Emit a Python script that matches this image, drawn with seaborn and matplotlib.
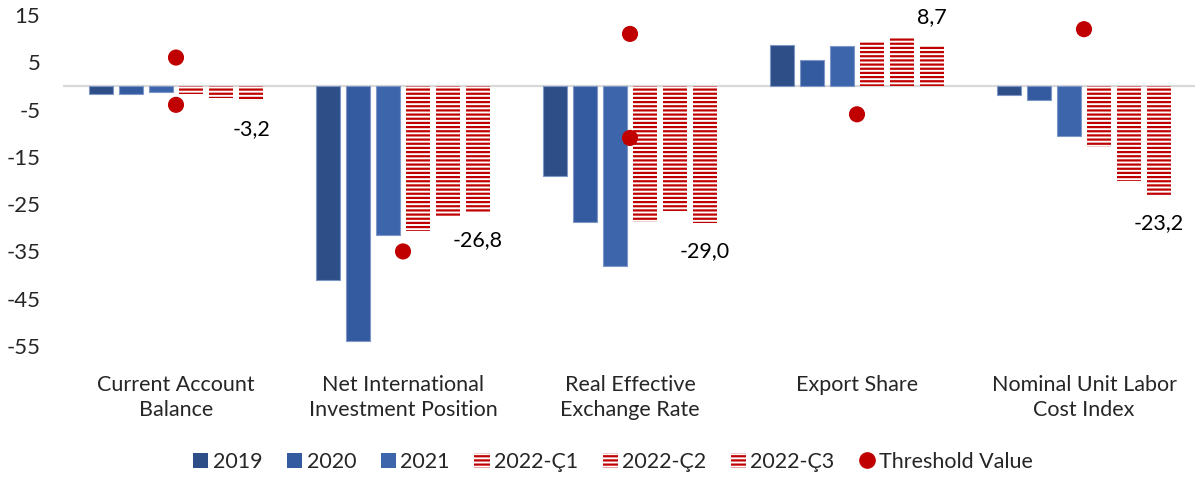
import matplotlib
matplotlib.use("Agg")
import matplotlib.pyplot as plt
from matplotlib.patches import Patch
from matplotlib.lines import Line2D
import seaborn as sns
import pandas as pd

# Indicators on the x axis
categories = [
    "Current Account\nBalance",
    "Net International\nInvestment Position",
    "Real Effective\nExchange Rate",
    "Export Share",
    "Nominal Unit Labor\nCost Index",
]
series = ["2019", "2020", "2021", "2022-Ç1", "2022-Ç2", "2022-Ç3"]

v2019 = [-1.8, -41.0, -19.0, 8.7, -2.0]
v2020 = [-1.8, -54.0, -28.7, 5.5, -3.0]
v2021 = [-1.3, -31.5, -38.0, 8.5, -10.5]
v2022_q1 = [-1.8, -30.6, -28.8, 9.3, -13.0]
v2022_q2 = [-2.5, -27.5, -26.5, 10.1, -20.0]
v2022_q3 = [-3.2, -26.8, -29.0, 8.7, -23.2]

# Threshold values (indicator index, value)
threshold_idx = [0, 0, 1, 2, 2, 3, 4]
threshold_val = [6, -4, -35, 11, -11, -6, 12]

yticks = [15, 5, -5, -15, -25, -35, -45, -55]

blue_colors = ["#2E4E87", "#345A9F", "#3C65AC"]
red = "#C00000"

sns.set_style("white")
plt.rcParams["font.family"] = ["Lato", "DejaVu Sans"]
plt.rcParams["hatch.linewidth"] = 1.6
FS = 15.5

values = [v2019, v2020, v2021, v2022_q1, v2022_q2, v2022_q3]
df = pd.DataFrame(
    [(c, s, v) for s, vals in zip(series, values) for c, v in zip(categories, vals)],
    columns=["indicator", "series", "value"],
)

fig = plt.figure(figsize=(11.95, 4.8), dpi=100)
W, H = 1195, 480
left, right = 62.5, 1197.5
top, bottom = 15, 346
ax = fig.add_axes([left / W, 1 - bottom / H, (right - left) / W, (bottom - top) / H])

palette = dict(zip(series, blue_colors + ["#FFFFFF"] * 3))
sns.barplot(
    data=df, x="indicator", y="value", hue="series", hue_order=series,
    order=categories, palette=palette, width=0.793, gap=0.2,
    saturation=1, legend=False, ax=ax, errorbar=None,
)

for i, cont in enumerate(ax.containers):
    for p in cont.patches:
        if i < 3:
            p.set_edgecolor("#7F97C6")
            p.set_linewidth(0.8)
        else:
            p.set_facecolor("white")
            p.set_edgecolor(red)
            p.set_hatch("----")
            p.set_linewidth(0)

# Value labels for the last quarter
for p, v in zip(ax.containers[5].patches, v2022_q3):
    xc = p.get_x() + p.get_width() / 2
    ax.annotate(
        f"{v:.1f}".replace(".", ","), (xc, v),
        xytext=(0, 20 if v > 0 else -20), textcoords="offset points",
        ha="center", va="center", fontsize=FS, color="black",
    )

sns.scatterplot(
    x=threshold_idx, y=threshold_val, color=red, s=135,
    edgecolor="none", ax=ax, legend=False, zorder=5,
)

ax.axhline(0, color="#D9D9D9", lw=1.6, zorder=0.5)
ax.set_xlim(-0.5, 4.5)
ax.set_ylim(-55, 15)
ax.set_yticks(yticks)
ax.set_yticklabels([str(t) for t in yticks], fontsize=16)
ax.tick_params(axis="y", length=0, pad=16)
ax.tick_params(axis="x", length=0, pad=21, labelsize=FS)
for lbl in ax.get_xticklabels():
    lbl.set_linespacing(1.32)
ax.set_xlabel("")
ax.set_ylabel("")
for s in ax.spines.values():
    s.set_visible(False)

handles = [Patch(facecolor=c, edgecolor="none") for c in blue_colors]
handles += [Patch(facecolor="white", edgecolor=red, hatch="----", linewidth=0) for _ in range(3)]
handles += [Line2D([], [], marker="o", color=red, linestyle="none", markersize=11)]
labels = series + ["Threshold Value"]
fig.legend(
    handles, labels, loc="center", bbox_to_anchor=(613 / W, 1 - 462 / H),
    ncol=7, frameon=False, fontsize=FS, handlelength=0.7, handleheight=0.7,
    handletextpad=0.2, columnspacing=1.15,
)

fig.savefig("out.png", dpi=100)
